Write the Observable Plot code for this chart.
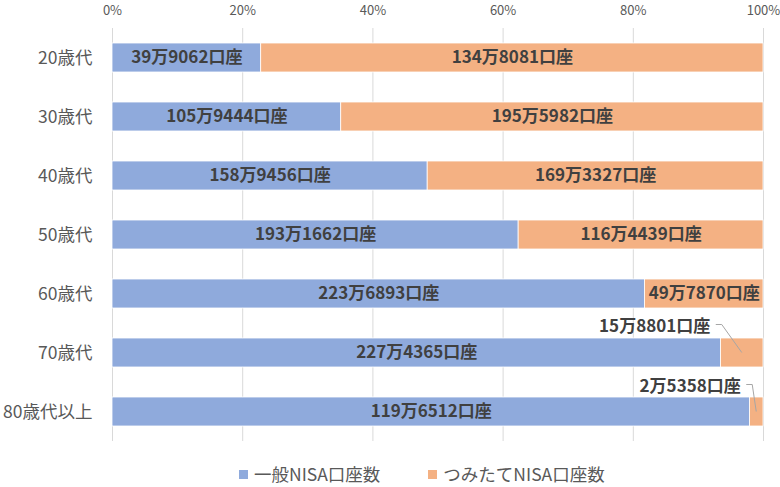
<!DOCTYPE html>
<html>
<head>
<meta charset="utf-8">
<script src="https://cdn.jsdelivr.net/npm/d3@7"></script>
<script src="https://cdn.jsdelivr.net/npm/@observablehq/plot@0.6"></script>
<style>
  body { margin: 0; background: #fff; font-family: "Noto Sans CJK JP", "Noto Sans", sans-serif; }
  #wrap { position: relative; width: 780px; height: 487px; overflow: hidden; }
  #legend { position: absolute; top: 461px; left: 239px; display: flex; gap: 48px; font-size: 17.5px; color: #595959; line-height: 26px; }
  #legend span.item { display: flex; align-items: center; }
  #legend span.sw { display: inline-block; width: 9px; height: 9px; margin-right: 6px; }
</style>
</head>
<body>
<div id="wrap"><div id="chart"></div><div id="legend"></div></div>
<script>
const ages = ["20歳代", "30歳代", "40歳代", "50歳代", "60歳代", "70歳代", "80歳代以上"];
const ippan = [399062, 1059444, 1589456, 1931662, 2236893, 2274365, 1196512];
const tsumitate = [1348081, 1955982, 1693327, 1164439, 497870, 158801, 25358];
const seriesNames = ["一般NISA口座数", "つみたてNISA口座数"];
const seriesColors = ["#8faadc", "#f4b183"];
const xTicks = [0, 0.2, 0.4, 0.6, 0.8, 1];
const calloutAges = ["70歳代", "80歳代以上"];

const fmt = v => `${Math.floor(v / 10000)}万${String(v % 10000).padStart(4, "0")}口座`;

const rows = [];
ages.forEach((age, i) => {
  const total = ippan[i] + tsumitate[i];
  const a = ippan[i] / total;
  rows.push({age, type: seriesNames[0], value: ippan[i], x1: 0, x2: a});
  rows.push({age, type: seriesNames[1], value: tsumitate[i], x1: a, x2: 1});
});
rows.forEach(r => r.mid = (r.x1 + r.x2) / 2);
const isCallout = r => r.type === seriesNames[1] && calloutAges.includes(r.age);

const labelStyle = {fontSize: 17, fontWeight: "bold", fill: "#404040"};

const plot = Plot.plot({
  width: 780,
  height: 445,
  marginLeft: 112,
  marginRight: 17,
  marginTop: 28,
  marginBottom: 4,
  style: {fontFamily: '"Noto Sans CJK JP", "Noto Sans", sans-serif', background: "#fff", overflow: "visible"},
  x: {domain: [0, 1], axis: null},
  y: {domain: ages, paddingInner: 0.51, paddingOuter: 0.245, axis: null},
  color: {domain: seriesNames, range: seriesColors},
  marks: [
    Plot.ruleX(xTicks, {stroke: "#d9d9d9", strokeWidth: 1}),
    Plot.axisX(xTicks, {anchor: "top", tickSize: 0, tickPadding: 14, tickFormat: d => `${Math.round(d * 100)}%`, fontSize: 13, fill: "#595959", label: null}),
    Plot.axisY({tickSize: 0, tickPadding: 20, fontSize: 17.5, fill: "#595959", label: null}),
    Plot.barX(rows, {x1: "x1", x2: "x2", y: "age", fill: "type", stroke: "#fff", strokeWidth: 0.8}),
    Plot.text(rows.filter(r => !isCallout(r)), {x: "mid", y: "age", text: d => fmt(d.value), ...labelStyle}),
    Plot.text(rows.filter(r => isCallout(r) && r.age === calloutAges[0]), {x: "mid", y: "age", text: d => fmt(d.value), ...labelStyle, textAnchor: "end", dx: -32, dy: -26}),
    Plot.text(rows.filter(r => isCallout(r) && r.age === calloutAges[1]), {x: "mid", y: "age", text: d => fmt(d.value), ...labelStyle, textAnchor: "end", dx: -16, dy: -25})
  ]
});

document.getElementById("chart").appendChild(plot);

// leader lines for callouts, placed through the plot's scales
const xs = plot.scale("x"), ys = plot.scale("y");
const svg = d3.select(plot);
const offsets = {"70歳代": [-32, -26], "80歳代以上": [-16, -25]};
rows.filter(isCallout).forEach(r => {
  const cx = xs.apply(r.mid);
  const cy = ys.apply(r.age) + ys.bandwidth / 2;
  const [dx, dy] = offsets[r.age];
  const lx = cx + dx + 6, ly = cy + dy - 2;
  svg.append("path")
    .attr("d", `M${lx},${ly}H${lx + 6}L${cx},${cy}`)
    .attr("fill", "none").attr("stroke", "#a6a6a6").attr("stroke-width", 1);
});

const legend = d3.select("#legend");
seriesNames.forEach((name, i) => {
  const it = legend.append("span").attr("class", "item");
  it.append("span").attr("class", "sw").style("background", seriesColors[i]);
  it.append("span").text(name);
});
</script>
</body>
</html>
